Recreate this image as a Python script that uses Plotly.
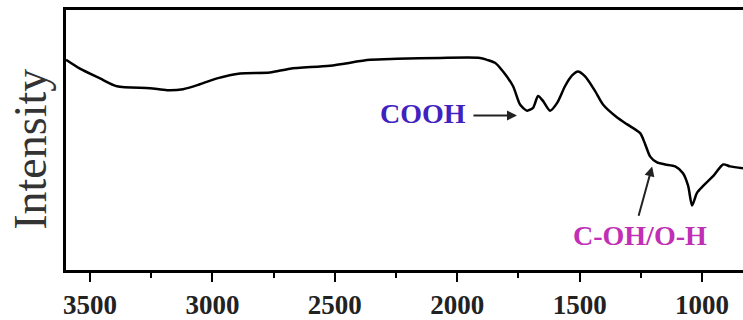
import plotly.graph_objects as go

# FTIR spectrum (wavenumber cm^-1, intensity a.u.)
wavenumber = [3598, 3541, 3459, 3390, 3255, 3185, 3120, 3051, 2981, 2887,
              2765, 2683, 2520, 2356, 2246, 2070, 1907, 1878, 1846, 1813,
              1772, 1743, 1715, 1690, 1670, 1650, 1621, 1592, 1560, 1531,
              1507, 1478, 1437, 1404, 1347, 1306, 1253, 1233, 1212, 1184,
              1151, 1110, 1078, 1057, 1041, 1021, 996, 955, 914, 886, 833]
intensity = [215, 206, 196, 188, 186, 184, 185, 190, 196, 201,
             202, 206, 209, 215, 216, 217, 217, 215, 212, 203,
             188, 169, 163, 166, 178, 173, 163, 171, 188, 199,
             203, 198, 183, 169, 156, 149, 140, 129, 116, 110,
             108, 106, 99, 86, 66, 79, 86, 96, 108, 106, 104]

tick_vals = [3500, 3000, 2500, 2000, 1500, 1000]
tick_text = ["3500", "3000", "2500", "2000", "1500", "1000"]

serif = "Liberation Serif"

fig = go.Figure()
fig.add_trace(go.Scatter(x=wavenumber, y=intensity, mode="lines",
                         line=dict(color="black", width=2.5, shape="spline",
                                   smoothing=0.7),
                         showlegend=False, hoverinfo="skip"))

fig.update_layout(
    width=743, height=320,
    margin=dict(l=66, r=0, t=10, b=44),
    paper_bgcolor="white", plot_bgcolor="white",
    xaxis=dict(range=[3598, 833], showgrid=False, zeroline=False,
               showline=True, linecolor="black", linewidth=3, mirror=True,
               ticks="outside", ticklen=9, tickwidth=2, tickcolor="black",
               tickvals=tick_vals, ticktext=tick_text,
               tickfont=dict(family=serif, size=27, color="#222", weight="bold"),
               minor=dict(ticks="outside", ticklen=5, tickwidth=2,
                          tickcolor="black", dtick=250, tick0=0)),
    yaxis=dict(range=[0, 266], showgrid=False, zeroline=False,
               showline=True, linecolor="black", linewidth=3,
               showticklabels=False, ticks=""),
    annotations=[
        dict(text="Intensity", xref="paper", yref="paper",
             x=-35/677, y=123/266, textangle=-90, showarrow=False,
             font=dict(family=serif, size=46, color="#333"),
             xanchor="center", yanchor="middle"),
        dict(text="COOH", x=2140, y=160, xref="x", yref="y", showarrow=False,
             font=dict(family=serif, size=28, color="#3f22bf", weight="bold")),
        dict(text="", x=1756, y=158, ax=1940, ay=158, xref="x", yref="y",
             axref="x", ayref="y", showarrow=True, arrowhead=2, arrowsize=1,
             arrowwidth=2, arrowcolor="#222"),
        dict(text="C-OH/O-H", x=1253, y=35, xref="x", yref="y", showarrow=False,
             font=dict(family=serif, size=28, color="#c12fb4", weight="bold")),
        dict(text="", x=1204, y=106, ax=1261, ay=54, xref="x", yref="y",
             axref="x", ayref="y", showarrow=True, arrowhead=2, arrowsize=1,
             arrowwidth=2, arrowcolor="#222"),
    ],
)

fig.write_html("out.html")
